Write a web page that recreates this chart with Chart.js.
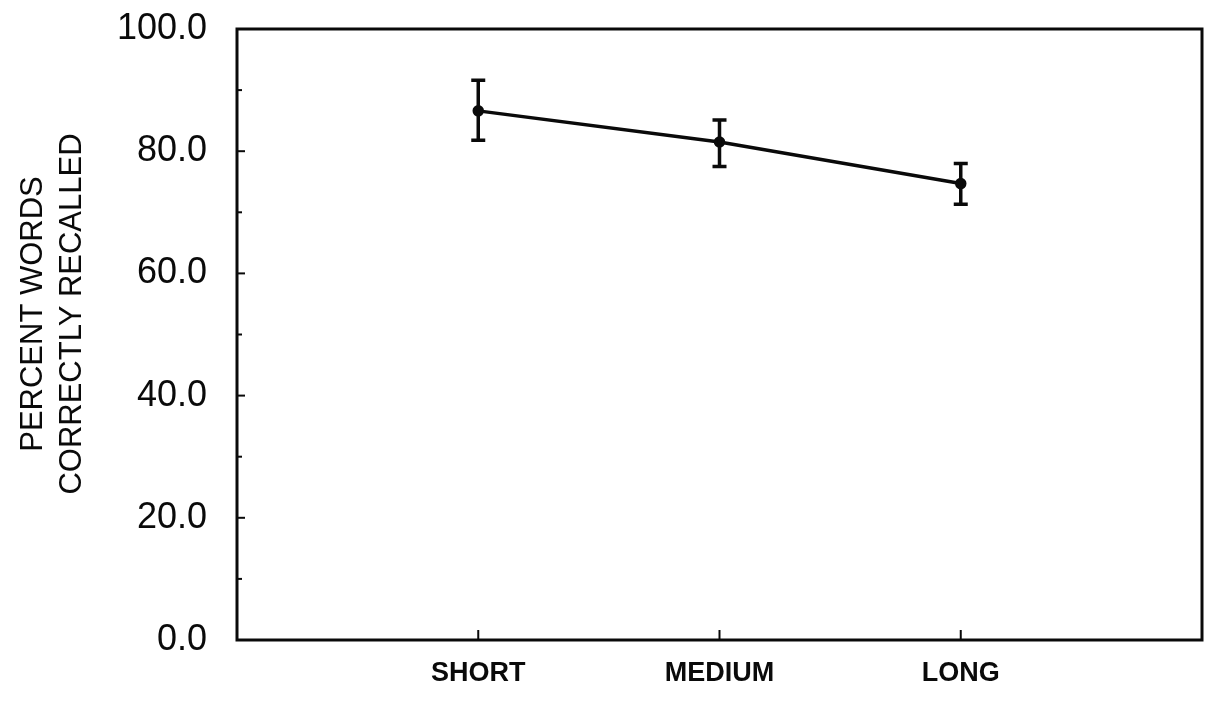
<!DOCTYPE html>
<html>
<head>
<meta charset="utf-8">
<script src="https://cdn.jsdelivr.net/npm/chart.js@4.4.0/dist/chart.umd.min.js"></script>
<style>
  html, body { margin: 0; padding: 0; background: #fff; }
  canvas { display: block; }
</style>
</head>
<body>
<canvas id="graphique" width="1216" height="701"></canvas>
<script>
// Valeurs
const categories = ['SHORT', 'MEDIUM', 'LONG'];
const positions = [1, 2, 3];
const moyennes = [86.6, 81.5, 74.7];
const hauts = [91.6, 85.1, 78.0];
const bas = [81.8, 77.5, 71.3];
const yTicks = [0, 20, 40, 60, 80, 100];
const titreY = ['PERCENT WORDS', 'CORRECTLY RECALLED'];

const NOIR = '#0a0a0a';

// Barres d'erreur, cadre, graduations et titre de l'axe Y
const decor = {
  id: 'decor',
  afterDatasetsDraw(chart) {
    const ctx = chart.ctx;
    const x = chart.scales.x, y = chart.scales.y;
    const a = chart.chartArea;
    ctx.save();
    ctx.strokeStyle = NOIR;
    ctx.lineCap = 'butt';

    // barres d'erreur
    ctx.lineWidth = 3.5;
    positions.forEach((p, i) => {
      const px = x.getPixelForValue(p);
      const yh = y.getPixelForValue(hauts[i]);
      const yb = y.getPixelForValue(bas[i]);
      ctx.beginPath();
      ctx.moveTo(px, yh); ctx.lineTo(px, yb);
      ctx.moveTo(px - 7, yh); ctx.lineTo(px + 7, yh);
      ctx.moveTo(px - 7, yb); ctx.lineTo(px + 7, yb);
      ctx.stroke();
    });

    // cadre
    ctx.lineWidth = 3;
    ctx.strokeRect(a.left, a.top, a.right - a.left, a.bottom - a.top);

    // graduations Y (majeures et mineures)
    ctx.lineWidth = 2;
    for (let v = 0; v <= 100; v += 10) {
      const py = y.getPixelForValue(v);
      const l = v % 20 === 0 ? 8 : 5;
      ctx.beginPath();
      ctx.moveTo(a.left, py); ctx.lineTo(a.left + l, py);
      ctx.stroke();
    }
    // graduations X
    positions.forEach(p => {
      const px = x.getPixelForValue(p);
      ctx.beginPath();
      ctx.moveTo(px, a.bottom); ctx.lineTo(px, a.bottom - 10);
      ctx.stroke();
    });

    // titre Y sur deux lignes
    ctx.fillStyle = NOIR;
    ctx.font = '31px "Liberation Sans", Arial, sans-serif';
    ctx.textAlign = 'center';
    ctx.textBaseline = 'middle';
    [33.5, 72.5].forEach((tx, i) => {
      ctx.save();
      ctx.translate(tx, 314);
      ctx.rotate(-Math.PI / 2);
      ctx.fillText(titreY[i], 0, 0);
      ctx.restore();
    });
    ctx.restore();
  }
};

const data = {
  datasets: [{
    data: positions.map((p, i) => ({ x: p, y: moyennes[i] })),
    showLine: true,
    borderColor: NOIR,
    borderWidth: 3.5,
    pointRadius: 4,
    pointBackgroundColor: NOIR,
    pointBorderColor: NOIR,
    tension: 0,
  }]
};

const options = {
  responsive: false,
  animation: false,
  devicePixelRatio: 1,
  layout: { padding: { left: 0, right: 14, top: 29, bottom: 0 } },
  plugins: { legend: { display: false }, tooltip: { enabled: false } },
  scales: {
    x: {
      type: 'linear',
      min: 0, max: 4,
      grid: { display: false },
      border: { display: false },
      afterBuildTicks: s => { s.ticks = positions.map(v => ({ value: v })); },
      afterFit: s => { s.height = 61; s.paddingLeft = 0; s.paddingRight = 0; },
      ticks: {
        color: NOIR,
        padding: 9,
        font: { family: '"Liberation Sans", Arial, sans-serif', size: 27, weight: 'bold' },
        callback: v => categories[positions.indexOf(v)] || '',
      }
    },
    y: {
      type: 'linear',
      min: 0, max: 100,
      grid: { display: false },
      border: { display: false },
      afterBuildTicks: s => { s.ticks = yTicks.map(v => ({ value: v })); },
      afterFit: s => { s.width = 237; s.paddingTop = 0; s.paddingBottom = 0; },
      ticks: {
        color: NOIR,
        padding: 22,
        font: { family: '"Liberation Sans", Arial, sans-serif', size: 36 },
        callback: v => Number(v).toFixed(1),
      }
    }
  }
};

const ctx = document.getElementById('graphique').getContext('2d');
new Chart(ctx, { type: 'scatter', data: data, options: options, plugins: [decor] });
</script>
</body>
</html>
